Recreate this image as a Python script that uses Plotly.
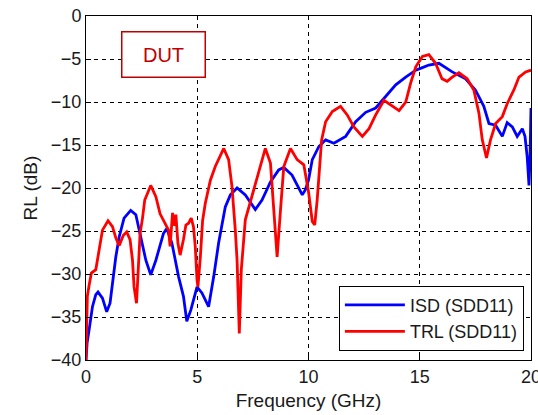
import plotly.graph_objects as go

# Differential return loss (SDD11) of the DUT, two de-embedding methods
isd_freq = [0, 0.05, 0.14, 0.29, 0.44, 0.54, 0.74, 0.93, 1.08, 1.19,
            1.34, 1.49, 1.71, 2.01, 2.24, 2.46, 2.69, 2.91, 3.14, 3.48,
            3.63, 3.86, 4.16, 4.38, 4.53, 4.71, 4.85, 4.99, 5.21, 5.51,
            5.74, 5.96,
            6.26, 6.49, 6.79, 7.16, 7.61, 7.91, 8.29, 8.66, 8.89, 9.26,
            9.72, 9.86, 10.0, 10.17, 10.46, 10.77, 11.14, 11.67, 12.12, 12.57,
            13.02, 13.47, 13.92, 14.37, 14.82, 15.12, 15.41, 15.86, 16.46, 17.06,
            17.5, 17.88, 18.11, 18.41, 18.71, 18.93, 19.16, 19.38, 19.61, 19.73,
            19.83, 19.91, 19.95, 20.0]
isd_rl = [-40, -38, -36.5, -33.8, -32.4, -32.1, -32.8, -34.4, -33.4, -31.1,
          -28.0, -25.7, -23.5, -22.6, -23.1, -25.7, -28.4, -30.1, -28.4, -25.3,
          -24.7, -26.4, -30.3, -32.6, -35.5, -34.2, -33.0, -31.5, -32.2, -33.8,
          -30.3, -26.4,
          -22.2, -20.8, -20.0, -20.8, -22.5, -21.4, -19.3, -17.9, -17.6, -18.5,
          -20.8, -20.2, -19.1, -16.7, -15.2, -14.4, -14.8, -14.0, -12.3, -11.2,
          -10.7, -9.4, -8.0, -7.1, -6.3, -6.0, -5.7, -5.5, -6.5, -7.3,
          -8.6, -10.5, -12.5, -12.7, -14.0, -12.4, -12.9, -14.0, -13.1, -14.0,
          -16.4, -19.7, -17.0, -10.7]

trl_freq = [0, 0.03, 0.06, 0.14, 0.24, 0.44, 0.54, 0.66, 0.74, 0.99,
            1.19, 1.34, 1.49, 1.68, 1.83, 1.98, 2.09, 2.16, 2.27, 2.34,
            2.43, 2.54, 2.64, 2.91, 3.14, 3.33, 3.56, 3.71, 3.78, 3.89,
            3.98, 4.04, 4.13, 4.23, 4.38, 4.49, 4.61, 4.73, 4.83, 4.91,
            4.99, 5.03, 5.14, 5.24, 5.36,
            5.59, 5.81, 6.19, 6.41, 6.56, 6.71, 6.79, 6.89, 6.98,
            7.16, 7.46, 7.69, 8.06, 8.29, 8.44, 8.59, 8.74, 8.89, 9.19,
            9.49, 9.79, 10.01, 10.17, 10.28, 10.39, 10.5, 10.59, 10.77, 11.07,
            11.44, 11.74, 12.04, 12.42, 12.72, 13.02, 13.39, 13.69, 14.07, 14.37,
            14.59, 14.82, 15.12, 15.41, 15.71, 16.0, 16.23, 16.46, 16.76, 17.13,
            17.43, 17.66, 17.81, 18.0, 18.18, 18.41, 18.71, 18.93, 19.23, 19.46,
            19.76, 20.0]
trl_rl = [-40, -34, -32.6, -31.3, -29.9, -29.5, -28.0, -26.0, -24.9, -23.8,
          -24.5, -25.8, -26.7, -25.5, -25.1, -26.0, -28.4, -31.5, -33.4, -29.9,
          -25.3, -23.5, -21.4, -19.7, -21.0, -23.0, -24.1, -24.9, -26.8, -22.9,
          -24.4, -23.1, -26.4, -27.8, -26.0, -24.3, -24.1, -23.5, -24.5, -26.8,
          -30.7, -31.5, -28.0, -23.8, -21.8,
          -19.1, -17.5, -15.4, -16.7, -19.8, -24.9, -28.4, -36.9, -29.5,
          -23.7, -21.0, -18.7, -15.4, -17.1, -22.6, -28.0, -22.6, -17.5, -15.4,
          -16.7, -17.3, -20.6, -23.9, -24.3, -21.4, -17.5, -14.4, -12.3, -11.1,
          -10.5, -11.5, -12.9, -14.0, -13.1, -11.5, -9.8, -10.3, -11.0, -10.0,
          -7.8, -5.9, -4.7, -4.5, -5.5, -7.3, -7.6, -7.1, -6.6, -7.3,
          -8.6, -11.3, -14.4, -16.5, -14.4, -12.5, -11.7, -10.2, -8.6, -7.1,
          -6.5, -6.3]

x_ticks = [0, 5, 10, 15, 20]
y_ticks = [0, -5, -10, -15, -20, -25, -30, -35, -40]

FONT = "Liberation Sans, Arial, sans-serif"

fig = go.Figure()
fig.add_trace(go.Scatter(x=isd_freq, y=isd_rl, mode="lines", name="ISD (SDD11)",
                         line=dict(color="#0000ff", width=2.8)))
fig.add_trace(go.Scatter(x=trl_freq, y=trl_rl, mode="lines", name="TRL (SDD11)",
                         line=dict(color="#ff0000", width=2.8)))

axis_common = dict(
    showline=True, mirror=True, linecolor="black", linewidth=1,
    showgrid=True, gridcolor="black", gridwidth=1, griddash="4px,4px",
    ticks="inside", ticklen=5, tickcolor="black",
    tickfont=dict(family=FONT, size=18, color="#1a1a1a"),
    ticklabeloverflow="allow", automargin=False,
    zeroline=False,
)

fig.update_xaxes(range=[0, 20], tickvals=x_ticks,
                 title=dict(text="Frequency (GHz)", font=dict(family=FONT, size=19, color="#1a1a1a"),
                            standoff=8),
                 **axis_common)
fig.update_yaxes(range=[-40, 0], tickvals=y_ticks,
                 title=dict(text="RL (dB)", font=dict(family=FONT, size=19, color="#1a1a1a"),
                            standoff=8),
                 **axis_common)

fig.add_annotation(x=0.175, y=0.887, xref="paper", yref="paper",
                   xanchor="center", yanchor="middle",
                   text="DUT", showarrow=False,
                   font=dict(family=FONT, size=20, color="#c00000"),
                   bordercolor="#c00000", borderwidth=1.5, borderpad=9,
                   bgcolor="white", width=64, height=26)

fig.update_layout(
    width=538, height=415,
    margin=dict(l=86, r=7, t=16, b=55, autoexpand=False),
    paper_bgcolor="white", plot_bgcolor="white",
    showlegend=True,
    legend=dict(x=0.984, y=0.027, xanchor="right", yanchor="bottom",
                bgcolor="white", bordercolor="black", borderwidth=1,
                font=dict(family=FONT, size=18, color="#1a1a1a"),
                itemwidth=60, tracegroupgap=0),
)

fig.write_html("out.html")
